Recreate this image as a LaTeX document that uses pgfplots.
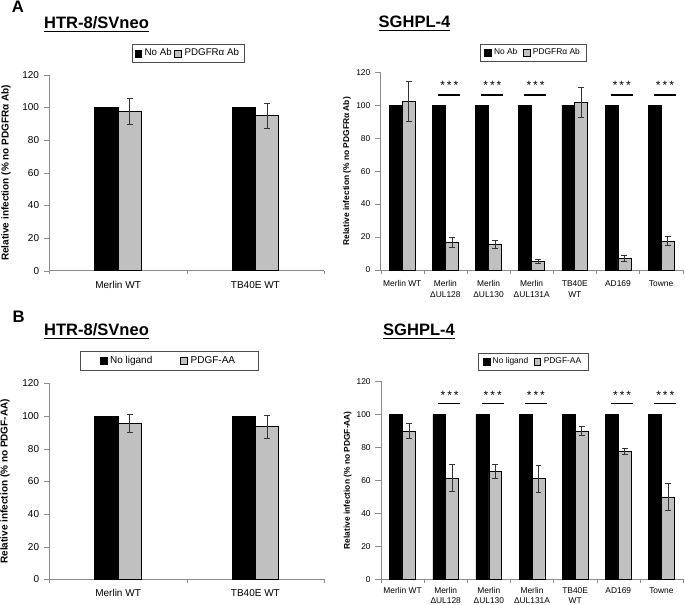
\documentclass[border=0pt]{standalone}
\usepackage{pgfplots}
\pgfplotsset{compat=1.18}
\usepackage{pgfplotstable}
\usepackage{fontspec}
\setmainfont{Liberation Sans}
\definecolor{barg}{RGB}{192,192,192}
\definecolor{axg}{RGB}{140,140,140}
\newcommand\ultitle[1]{\setbox0\hbox{\bfseries #1}\rlap{\raisebox{-2.6pt}{\rule{\wd0}{1.3pt}}}\box0}

\pgfplotstableread{
x y e
1 100 0
2 100 0
}\tlblack
\pgfplotstableread{
x y e
1 97.5 8
2 95 7.5
}\tlgrey
\pgfplotstableread{
x y e
1 100 0
2 100 0
3 100 0
4 100 0
5 100 0
6 100 0
7 100 0
}\rblack
\pgfplotstableread{
x y e
1 102.4 12.3
2 17 3
3 15.5 2.5
4 5 1.2
5 101.8 9.1
6 7 2
7 17.5 2.8
}\trgrey
\pgfplotstableread{
x y e
1 95.5 5.5
2 93.5 7
}\blgrey
\pgfplotstableread{
x y e
1 90 4.5
2 61.5 8
3 65.5 4.5
4 61 8
5 90 2.5
6 77.5 2
7 50 8
}\brgrey

\pgfplotsset{
  panel/.style={
    scale only axis,
    anchor=south west,
    axis lines*=left,
    axis line style={axg},
    ymin=0, ymax=120, ytick={0,20,...,120},
    tick align=outside,
    major tick style={axg},
    minor tick style={axg},
    ytick style={axg},
    /pgf/number format/assume math mode=true,
    xmin=0.5,
    major x tick style={draw=none},
    minor x tick num=0,
    ylabel style={font=\bfseries, anchor=center},
    legend columns=2,
    legend style={draw=black!70, fill=white, anchor=center, inner ysep=1.5pt, inner xsep=3pt},
    legend image code/.code={\draw[##1, draw=black] (0pt,-2.6pt) rectangle (5.2pt,2.6pt);},
    clip=false,
  },
  blk/.style={ybar, fill=black, draw=black},
  gry/.style={ybar, fill=barg, draw=black, line width=0.5pt},
  errb/.style={forget plot, draw=none, mark=none,
    error bars/y dir=both, error bars/y explicit,
    error bars/error bar style={draw=black!80, line width=0.5pt},
    error bars/error mark options={rotate=90, mark size=2.2pt, draw=black!80, line width=0.5pt}},
}

\begin{document}
\begin{tikzpicture}
\path[use as bounding box] (0pt,0pt) rectangle (513.75pt,453pt);

% panel letters and titles
\node[font=\fontsize{12.5}{14}\selectfont\bfseries] at (13.5pt,447.75pt) {A};
\node[font=\fontsize{12.5}{14}\selectfont\bfseries] at (13.9pt,215.25pt) {B};
\node[font=\fontsize{12.4}{14}\selectfont, anchor=base] at (72.4pt,431.25pt) {\ultitle{HTR-8/SVneo}};
\node[font=\fontsize{12.4}{14}\selectfont, anchor=base] at (310.9pt,432pt) {\ultitle{SGHPL-4}};
\node[font=\fontsize{12.4}{14}\selectfont, anchor=base] at (72.4pt,201pt) {\ultitle{HTR-8/SVneo}};
\node[font=\fontsize{12.4}{14}\selectfont, anchor=base] at (314.25pt,201pt) {\ultitle{SGHPL-4}};

% ---------- top left ----------
\begin{axis}[panel, at={(37.1pt,250pt)}, width=205.9pt, height=146.8pt,
  xmax=2.5, xtick={1,2}, xticklabels={Merlin WT, TB40E WT},
  minor xtick={0.5,1.5,2.5},
  tick label style={font=\fontsize{7.5}{9}\selectfont},
  ylabel={Relative infection (\% no PDGFRα Ab)},
  ylabel style={at={(axis description cs:-0.158,0.5)}, font=\fontsize{7.5}{9}\selectfont\bfseries},
  legend style={at={(0.505,1.11)}, font=\fontsize{7.3}{9}\selectfont, inner xsep=2pt,
    /tikz/every even column/.append style={column sep=0pt}},
  bar width=0.17,
]
\addplot[blk, bar shift=-0.085] table[x=x,y=y] {\tlblack};
\addplot[gry, bar shift=0.085] table[x=x,y=y] {\tlgrey};
\addplot[errb] table[x expr=\thisrow{x}+0.085, y=y, y error=e] {\tlgrey};
\legend{No Ab, PDGFRα Ab}
\end{axis}

% ---------- top right ----------
\begin{axis}[panel, at={(285.5pt,250.5pt)}, width=226.5pt, height=148.3pt,
  xmax=7.5, xtick={1,...,7},
  xticklabels={Merlin WT, {Merlin\\ΔUL128}, {Merlin\\ΔUL130}, {Merlin\\ΔUL131A}, {TB40E\\WT}, AD169, Towne},
  xticklabel style={align=center, font=\fontsize{6.3}{8.3}\selectfont},
  minor xtick={0.5,1.5,...,7.5},
  yticklabel style={font=\fontsize{6.3}{8}\selectfont},
  ylabel={Relative infection (\% no PDGFRα Ab)},
  ylabel style={at={(axis description cs:-0.112,0.5)}, font=\fontsize{6.3}{8}\selectfont\bfseries},
  legend style={at={(0.505,1.10)}, font=\fontsize{6.3}{8}\selectfont,
    /tikz/every even column/.append style={column sep=2pt}},
  bar width=0.3,
]
\addplot[blk, bar shift=-0.15] table[x=x,y=y] {\rblack};
\addplot[gry, bar shift=0.15] table[x=x,y=y] {\trgrey};
\addplot[errb] table[x expr=\thisrow{x}+0.15, y=y, y error=e] {\trgrey};
\legend{No Ab, PDGFRα Ab}
\pgfplotsinvokeforeach{2,3,4,6,7}{
  \draw[black, line width=0.8pt] (axis cs:#1-0.17,106.2) -- (axis cs:#1+0.34,106.2);
  \node[font=\fontsize{9}{10}\selectfont] at (axis cs:#1+0.09,111.8) {*\,*\,*};
}
\end{axis}

% ---------- bottom left ----------
\begin{axis}[panel, at={(37.1pt,18.5pt)}, width=205.9pt, height=147pt,
  xmax=2.5, xtick={1,2}, xticklabels={Merlin WT, TB40E WT},
  minor xtick={0.5,1.5,2.5},
  tick label style={font=\fontsize{7.5}{9}\selectfont},
  ylabel={Relative infection (\% no PDGF-AA)},
  ylabel style={at={(axis description cs:-0.162,0.5)}, font=\fontsize{7.5}{9}\selectfont\bfseries},
  legend style={at={(0.435,1.116)}, font=\fontsize{7.5}{9}\selectfont, inner xsep=15pt,
    /tikz/every even column/.append style={column sep=19pt}},
  bar width=0.17,
]
\addplot[blk, bar shift=-0.085] table[x=x,y=y] {\tlblack};
\addplot[gry, bar shift=0.085] table[x=x,y=y] {\blgrey};
\addplot[errb] table[x expr=\thisrow{x}+0.085, y=y, y error=e] {\blgrey};
\legend{No ligand, PDGF-AA}
\end{axis}

% ---------- bottom right ----------
\begin{axis}[panel, at={(285.75pt,18.5pt)}, width=226.5pt, height=148.5pt,
  xmax=7.5, xtick={1,...,7},
  xticklabels={Merlin WT, {Merlin\\ΔUL128}, {Merlin\\ΔUL130}, {Merlin\\ΔUL131A}, {TB40E\\WT}, AD169, Towne},
  xticklabel style={align=center, font=\fontsize{6.3}{7.6}\selectfont, yshift=1.5pt},
  minor xtick={0.5,1.5,...,7.5},
  yticklabel style={font=\fontsize{6.3}{8}\selectfont},
  ylabel={Relative infection (\% no PDGF-AA)},
  ylabel style={at={(axis description cs:-0.11,0.5)}, font=\fontsize{6.3}{8}\selectfont\bfseries},
  legend style={at={(0.504,1.098)}, font=\fontsize{6.3}{8}\selectfont,
    /tikz/every even column/.append style={column sep=2pt}},
  bar width=0.3,
]
\addplot[blk, bar shift=-0.15] table[x=x,y=y] {\rblack};
\addplot[gry, bar shift=0.15] table[x=x,y=y] {\brgrey};
\addplot[errb] table[x expr=\thisrow{x}+0.15, y=y, y error=e] {\brgrey};
\legend{No ligand, PDGF-AA}
\pgfplotsinvokeforeach{2,3,4,6,7}{
  \draw[black, line width=0.8pt] (axis cs:#1-0.17,106.5) -- (axis cs:#1+0.34,106.5);
  \node[font=\fontsize{9}{10}\selectfont] at (axis cs:#1+0.09,111.5) {*\,*\,*};
}
\end{axis}
\end{tikzpicture}
\end{document}
